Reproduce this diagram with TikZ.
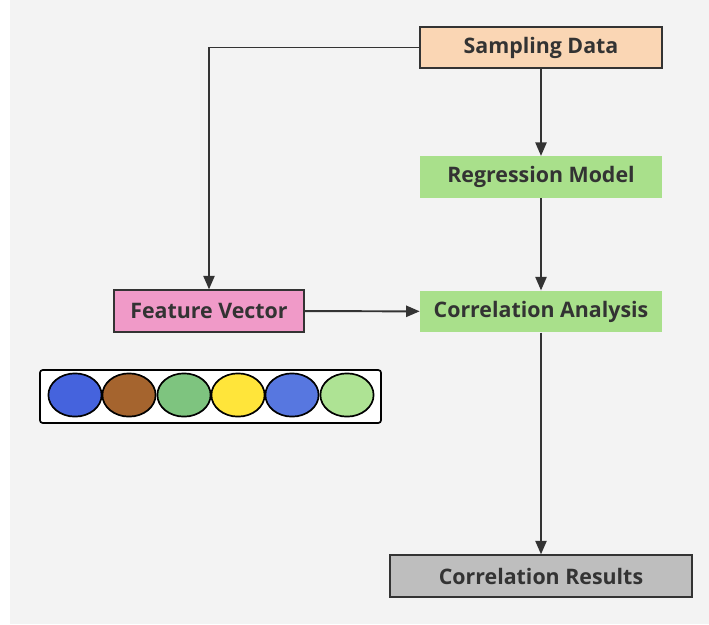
\documentclass[tikz,border=0pt]{standalone}
\usepackage{fontspec}
\setmainfont{Open Sans}
\usepackage{xcolor}
\usepackage{tikz}
\usetikzlibrary{shapes, arrows.meta, positioning, calc}

\definecolor{bggray}{HTML}{F3F3F3}
\definecolor{peach}{HTML}{FAD6B4}
\definecolor{lgreen}{HTML}{A9E08B}
\definecolor{pinkbox}{HTML}{F09AC8}
\definecolor{greybox}{HTML}{BEBEBE}
\definecolor{ink}{HTML}{333333}
\definecolor{c1}{HTML}{4563DD}
\definecolor{c2}{HTML}{A5642E}
\definecolor{c3}{HTML}{7EC47F}
\definecolor{c4}{HTML}{FFE53A}
\definecolor{c5}{HTML}{5777E0}
\definecolor{c6}{HTML}{AEE394}

\tikzset{
  box/.style={rectangle, minimum height=1.04cm, text=ink,
    font=\fontsize{15.2}{17}\selectfont\bfseries, inner sep=0pt},
  framed/.style={box, draw=ink, line width=1.2pt},
  link/.style={draw=ink, line width=1.4pt, -{Triangle[length=3.4mm, width=2.8mm]}},
  dot/.style={ellipse, draw=black, line width=1.2pt, minimum width=1.33cm, minimum height=1.08cm, inner sep=0pt}
}

\begin{document}
\begin{tikzpicture}[x=0.025cm, y=-0.025cm]
\useasboundingbox (0,0) rectangle (709,624);
\fill[bggray] (10,0) rectangle (709,624);

% boxes
\node[framed, fill=peach, minimum width=6.05cm] (sampling) at (541,47.5) {Sampling Data};
\node[box, fill=lgreen, minimum width=6.05cm] (regression) at (541,177) {Regression Model};
\node[box, fill=lgreen, minimum width=6.05cm] (analysis) at (541,311.5) {Correlation Analysis};
\node[framed, fill=pinkbox, minimum width=4.75cm] (feature) at (209,311) {Feature Vector};
\node[framed, fill=greybox, minimum width=7.55cm] (results) at (541,576) {Correlation Results};

% colour strip
\node[draw=black, fill=white, line width=1.2pt, rounded corners=2pt,
  minimum width=8.525cm, minimum height=1.325cm] (strip) at (210.5,396.5) {};
\foreach \px/\col in {75/c1, 129/c2, 184/c3, 238/c4, 292/c5, 347/c6}
  \node[dot, fill=\col] (dot-\col) at (\px,395) {};

% connectors
\draw[link] (sampling.west) -| (feature.north);
\draw[link] (sampling) -- (regression);
\draw[link] (regression) -- (analysis);
\draw[link] (feature) -- (analysis);
\draw[link] (analysis) -- (results);
\end{tikzpicture}
\end{document}
